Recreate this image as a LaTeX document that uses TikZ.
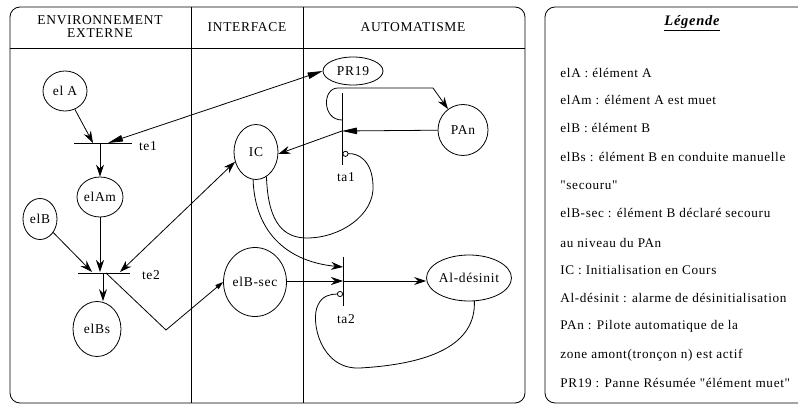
\documentclass[tikz,border=0pt]{standalone}
\usepackage{fontspec}
\setmainfont{Liberation Serif}[LetterSpace=5,Ligatures=TeXOff]
\usetikzlibrary{shapes.geometric,arrows.meta}
\begin{document}
\begin{tikzpicture}[x=1pt,y=-1pt,line width=0.8pt,
  place/.style={ellipse,draw,inner sep=0pt,font=\fontsize{13.5}{15}\selectfont},
  lbl/.style={font=\fontsize{13.5}{15}\selectfont,inner sep=0pt},
  leg/.style={font=\fontsize{13.2}{15}\selectfont,anchor=west,inner sep=0pt},
  hdr/.style={font=\fontsize{13.5}{13}\selectfont,align=center,inner sep=0pt},
  barline/.style={line width=0.9pt},
  stk/.style={-{Stealth[length=12pt,width=8pt,inset=4pt]}},
  tri/.style={-{Triangle[length=15pt,width=6.5pt]}},
  ttri/.style={{Triangle[length=15pt,width=6.5pt]}-{Triangle[length=15pt,width=6.5pt]}},
  stri/.style={-{Triangle[length=8pt,width=5pt]}},
  sst/.style={{Stealth[length=12pt,width=8pt,inset=4pt]}-{Stealth[length=12pt,width=8pt,inset=4pt]}},
  inh/.style={-{Circle[open,length=6pt,width=6pt]}}]
\useasboundingbox (0,0) rectangle (798,406);
% frames
\draw[rounded corners=10pt] (10,7) rectangle (525,403);
\draw (10,48) -- (525,48);
\draw (191,7) -- (191,403);
\draw (303,7) -- (303,403);
\draw[rounded corners=10pt] (545,7) rectangle (812,403);
% headers
\node[hdr] (h1) at (100,27) {ENVIRONNEMENT\\EXTERNE};
\node[hdr] (h2) at (247,27) {INTERFACE};
\node[hdr] (h3) at (413,27) {AUTOMATISME};
% places
\node[place,minimum width=44pt,minimum height=40pt] (elA) at (65,91) {el A};
\node[place,minimum width=46pt,minimum height=40pt] (elAm) at (100,197) {elAm};
\node[place,minimum width=34pt,minimum height=41pt] (elB) at (40,219) {elB};
\node[place,minimum width=48pt,minimum height=55pt] (elBs) at (97,329) {elBs};
\node[place,minimum width=60pt,minimum height=28pt] (PR19) at (353,71) {PR19};
\node[place,minimum width=44pt,minimum height=55pt] (IC) at (256,152) {IC};
\node[place,minimum width=50pt,minimum height=51pt] (PAn) at (463,130) {PAn};
\node[place,minimum width=59pt,minimum height=69pt] (elBsec) at (255,282) {elB-sec};
\node[place,minimum width=82pt,minimum height=46pt] (Al) at (469,278) {Al-désinit};
% transitions
\draw[barline] (74,143) -- (132,143);
\draw[barline] (78,273) -- (130,273);
\draw[barline] (342,93) -- (342,165);
\draw[barline] (343,257) -- (343,306);
\node[lbl] (te1l) at (148,146) {te1};
\node[lbl] (te2l) at (151,275) {te2};
\node[lbl] (ta1l) at (346,177) {ta1};
\node[lbl] (ta2l) at (346,319) {ta2};
% ports on transitions
\coordinate (te1a) at (93,143);
\coordinate (te1b) at (108,143);
\coordinate (te1c) at (100,143);
\coordinate (te2a) at (92,272);
\coordinate (te2b) at (100,272);
\coordinate (te2c) at (120,272);
\coordinate (te2o) at (103,273);
\coordinate (te2p) at (106,273);
\coordinate (bend) at (166,330);
\coordinate (ta1p) at (342,131);
\coordinate (ta1q) at (342,120);
\coordinate (ta1r) at (342.5,154);
\coordinate (ta2p) at (343,281);
\coordinate (ta2q) at (343,267);
\coordinate (ta2r) at (343,294);
\coordinate (loopa) at (338,88);
\coordinate (loopb) at (433,88);
% arcs
\draw[stk] (elA) -- (te1a);
\draw[ttri] (PR19.west) -- (te1b);
\draw[stk] (te1c) -- (elAm);
\draw[stk] (elAm) -- (te2b);
\draw[stk] (elB) -- (te2a);
\draw[sst] (te2c) -- (IC.205);
\draw[stk] (te2o) -- (te2o |- elBs.north);
\draw[stri] (te2p) -- (bend) -- (elBsec.west);
\draw[tri] (PAn) -- (ta1p);
\draw[stk] (ta1p) -- (IC.355);
\draw[stk] (ta1q) .. controls (322,120) and (322,88) .. (loopa) -- (loopb) -- (PAn);
\draw[inh] (IC.293) .. controls (268,225) and (285,238) .. (307,238)
  .. controls (340,238) and (375,215) .. (373,185)
  .. controls (372,160) and (358,153) .. (ta1r);
\draw[stk] (IC.264) .. controls (255,235) and (290,262) .. (ta2q);
\draw[stk] (elBsec.east |- ta2p) -- (ta2p);
\draw[stk] (ta2p) -- (ta2p -| Al.west);
\draw[inh] (Al.283) .. controls (476,345) and (430,364) .. (360,368)
  .. controls (320,370) and (310,320) .. (318,305)
  .. controls (322,296) and (330,294) .. (ta2r);
% legend
\node[font=\fontsize{14.5}{15}\selectfont\bfseries\itshape,inner sep=0pt] (lt) at (692,23) {\underline{Légende}};
\node[leg] (l1) at (560,73) {elA : élément A};
\node[leg] (l2) at (560,100) {elAm : élément A est muet};
\node[leg] (l3) at (560,128) {elB : élément B};
\node[leg] (l4) at (560,157) {elBs : élément B en conduite manuelle};
\node[leg] (l5) at (560,185) {"secouru"};
\node[leg] (l6) at (560,213) {elB-sec : élément B déclaré secouru};
\node[leg] (l7) at (560,243) {au niveau du PAn};
\node[leg] (l8) at (560,270) {IC : Initialisation en Cours};
\node[leg] (l9) at (560,298) {Al-désinit : alarme de désinitialisation};
\node[leg] (l10) at (560,326) {PAn : Pilote automatique de la};
\node[leg] (l11) at (560,355) {zone amont(tronçon n) est actif};
\node[leg] (l12) at (560,383) {PR19 : Panne Résumée "élément muet"};
\end{tikzpicture}
\end{document}
